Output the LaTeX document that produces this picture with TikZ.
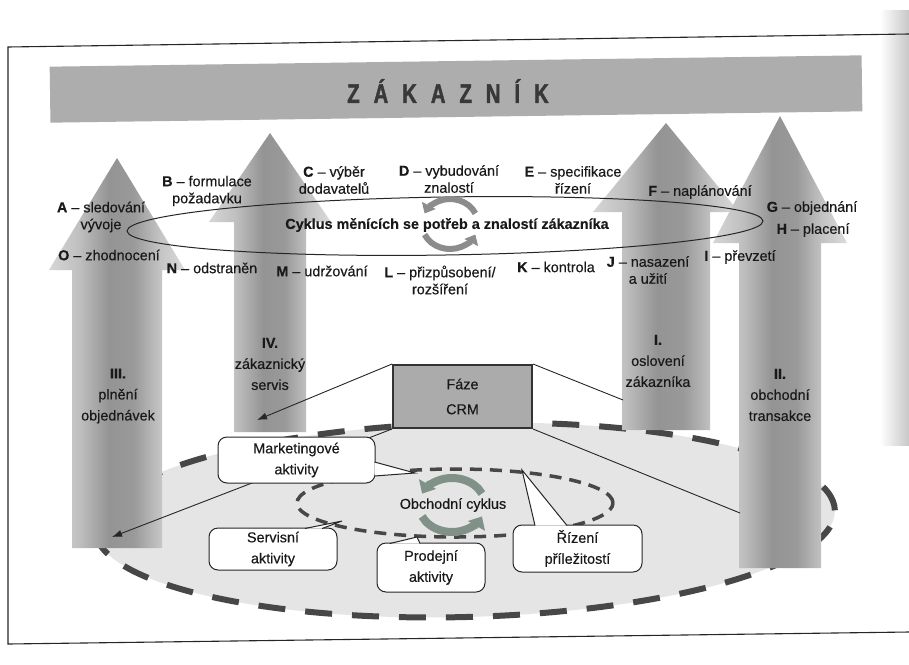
\documentclass[tikz,border=0pt]{standalone}
\usepackage{fontspec}
\setmainfont{Liberation Sans}[FakeBold=0.35]
\newfontfamily\titlefont{Liberation Sans Bold}[FakeStretch=0.75, FakeBold=1.6]
\usetikzlibrary{arrows.meta,calc}
\pgfdeclarehorizontalshading{colshade}{100bp}{color(0bp)=(black!16); color(25bp)=(black!16); color(36bp)=(black!25); color(47bp)=(black!42); color(56bp)=(black!40); color(66bp)=(black!23); color(75bp)=(black!14); color(100bp)=(black!14)}
\definecolor{cycgreen}{RGB}{128,145,135}
\newcommand\calltail[3]{\fill[white] #1 -- #2 -- #3 -- cycle; \draw[draw=black!85, line width=1pt] #1 -- #2 -- #3;}
\begin{document}
\begin{tikzpicture}[x=1pt,y=-1pt,
  txt/.style={font=\fontsize{14.4}{17}\selectfont, text=black!90, align=center, inner sep=0pt},
  coltxt/.style={font=\fontsize{14.4}{21}\selectfont, text=black!90, align=center, inner sep=0pt},
  frameline/.style={draw=black!85, line width=1.1pt},
  colarrow/.style={shading=colshade},
  cbox/.style={draw=black!85, line width=1pt, fill=white, rounded corners=9pt, align=center, inner sep=0pt, font=\fontsize{14.4}{21}\selectfont, text=black!90},
  conn/.style={draw=black!85, line width=0.9pt},
  cyc/.style={line width=6pt, draw=black!45},
  bigcyc/.style={line width=8pt, draw=cycgreen},
]
\useasboundingbox (0,0) rectangle (909,664);
\fill[white] (0,0) rectangle (909,664);
% page edge shadow
\shade[left color=white, right color=black!22] (880,10) rectangle (909,445);
% frame
\draw[frameline] (909,34) -- (8,47) -- (8,644) -- (909,632);
% banner
\node[fill=black!32, minimum width=812pt, minimum height=56pt, rotate=0.8, inner sep=0pt] (banner) at (456,89) {};
\node[font=\titlefont\fontsize{27}{27}\selectfont, text=black!78, inner sep=0pt] (title) at (448,91) {\spaceskip=14pt Z Á K A Z N Í K};
% outer dashed region
\draw[fill=black!10, draw=black!72, line width=6pt, dash pattern=on 27pt off 20pt, rotate around={1.5:(465,520)}] (465,520) ellipse [x radius=370pt, y radius=97pt];
% inner dashed ellipse
\draw[draw=black!72, line width=3.5pt, dash pattern=on 12pt off 8pt] (455,503) ellipse [x radius=158pt, y radius=34pt];
% big columns
\path[colarrow] (72,548) -- (72,270) -- (49,270) -- (117,158) -- (185,270) -- (162,270) -- (162,548) -- cycle;
\path[colarrow] (234,432) -- (234,222) -- (209,222) -- (270,133) -- (331,222) -- (306,222) -- (306,432) -- cycle;
\path[colarrow] (622,430) -- (622,212) -- (593,212) -- (666,123) -- (739,212) -- (710,212) -- (710,430) -- cycle;
\path[colarrow] (739,568) -- (739,243) -- (713,243) -- (780,116) -- (847,243) -- (821,243) -- (821,568) -- cycle;
% thin ellipse
\draw[black!85, line width=1pt, rotate around={0.9:(445,226)}] (445,226) ellipse [x radius=318pt, y radius=29pt];
% cycle arrows (top)
\coordinate (c1) at (450,224);
\draw[cyc,-{Triangle[width=15pt,length=9pt]}] ([shift={(25:28pt and 25pt)}]c1) arc[start angle=25, end angle=155, x radius=28pt, y radius=25pt];
\draw[cyc,-{Triangle[width=15pt,length=9pt]}] ([shift={(205:28pt and 25pt)}]c1) arc[start angle=205, end angle=335, x radius=28pt, y radius=25pt];
\node[txt, font=\bfseries\fontsize{14.4}{17}\selectfont] (cyk) at (447,225) {Cyklus měnících se potřeb a znalostí zákazníka};
% cycle arrows (bottom)
\coordinate (c2) at (452,505);
\draw[bigcyc,-{Triangle[width=19pt,length=11pt]}] ([shift={(25:33pt and 27pt)}]c2) arc[start angle=25, end angle=155, x radius=33pt, y radius=27pt];
\draw[bigcyc,-{Triangle[width=19pt,length=11pt]}] ([shift={(205:33pt and 27pt)}]c2) arc[start angle=205, end angle=335, x radius=33pt, y radius=27pt];
\node[txt] (obc) at (453,505) {Obchodní cyklus};
% labels
\node[txt] (lA) at (101,217) {\textbf{A} – sledování\\vývoje};
\node[txt] (lO) at (109,255) {\textbf{O} – zhodnocení};
\node[txt] (lB) at (207,191) {\textbf{B} – formulace\\požadavku};
\node[txt] (lN) at (212,268) {\textbf{N} – odstraněn};
\node[txt] (lC) at (334,180) {\textbf{C} – výběr\\dodavatelů};
\node[txt] (lM) at (322,271) {\textbf{M} – udržování};
\node[txt] (lD) at (449,179) {\textbf{D} – vybudování\\znalostí};
\node[txt] (lL) at (440,280) {\textbf{L} – přizpůsobení/\\rozšíření};
\node[txt] (lE) at (573,180) {\textbf{E} – specifikace\\řízení};
\node[txt] (lK) at (556,267) {\textbf{K} – kontrola};
\node[txt] (lF) at (700,192) {\textbf{F} – naplánování};
\node[txt] (lG) at (812,208) {\textbf{G} – objednání};
\node[txt] (lH) at (813,230) {\textbf{H} – placení};
\node[txt] (lI2) at (740,257) {\textbf{I} – převzetí};
\node[txt] (lJ) at (648,270) {\textbf{J} – nasazení\\a užití};
% column labels
\node[coltxt] (lIII) at (118,396) {\textbf{III.}\\plnění\\objednávek};
\node[coltxt] (lIV) at (270,364) {\textbf{IV.}\\zákaznický\\servis};
\node[coltxt] (lI) at (658,361) {\textbf{I.}\\oslovení\\zákazníka};
\node[coltxt] (lII) at (780,395) {\textbf{II.}\\obchodní\\transakce};
% CRM box and its lines
\node[draw=black!80, line width=2pt, fill=black!33, minimum width=139pt, minimum height=63pt, align=center, font=\fontsize{14.4}{25}\selectfont, text=black!90, inner sep=0pt] (crm) at (462.5,396.5) {Fáze\\CRM};
\coordinate (t4) at (257,420);
\coordinate (t1) at (623,400);
\coordinate (t2) at (740,513);
\coordinate (t3) at (112,537);
\draw[conn,-{Latex[length=10pt,width=7pt]}] (crm.north west) -- (t4);
\draw[conn] (crm.north east) -- (t1);
\draw[conn] (crm.south east) -- (t2);
\draw[conn,-{Latex[length=10pt,width=7pt]}] (crm.south west) -- (t3);
% callout boxes
\node[cbox, minimum width=157pt, minimum height=46pt] (mk) at (296.5,460) {Marketingové\\aktivity};
\node[cbox, minimum width=128pt, minimum height=42pt] (sv) at (273,549) {Servisní\\aktivity};
\node[cbox, minimum width=108pt, minimum height=49pt] (pd) at (431,567.5) {Prodejní\\aktivity};
\node[cbox, minimum width=129pt, minimum height=47pt] (rz) at (577.5,548.5) {Řízení\\příležitostí};
\coordinate (mkT) at (415,473);
\coordinate (svT) at (342,521);
\coordinate (pdT) at (417,537);
\coordinate (rzT) at (522,470);
\calltail{($(mk.east)+(-1,2)$)}{(mkT)}{($(mk.east)+(-1,16)$)}
\calltail{($(sv.north)+(32,1)$)}{(svT)}{($(sv.north)+(49,1)$)}
\calltail{($(pd.north)+(-41,1)$)}{(pdT)}{($(pd.north)+(-11,1)$)}
\calltail{($(rz.north)+(-42.5,1)$)}{(rzT)}{($(rz.north)+(-10.5,1)$)}
\end{tikzpicture}
\end{document}
